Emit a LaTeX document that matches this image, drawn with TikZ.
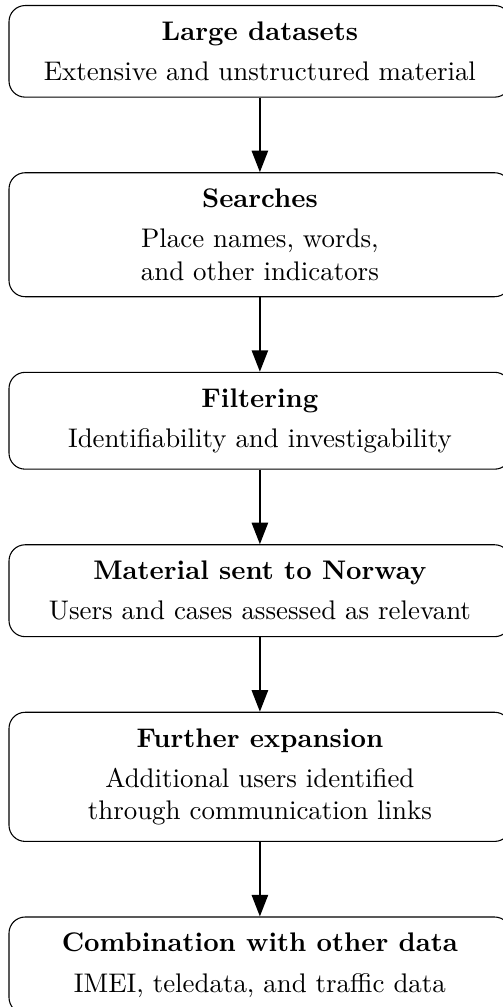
\documentclass[tikz,border=0pt]{standalone}
\usetikzlibrary{calc,positioning,arrows.meta}

\begin{document}
\begin{tikzpicture}[
    stage/.style={rectangle,draw=black,rounded corners=6pt,align=center,
      minimum width=186.5pt,inner ysep=6pt},
    flow/.style={thick,-{Triangle[width=6pt,length=8pt]}},
    node distance=27.7pt
  ]

  \useasboundingbox (-96.6pt,1.86pt) rectangle ++(186.6pt,-374.3pt);

  \node (stage_0) [stage,anchor=north] at(0,0) {\textbf{Large datasets}\\[3pt]Extensive and unstructured material};
  \node (stage_1) [stage,below=of stage_0] {\textbf{Searches}\\[3pt]Place names, words,\\and other indicators};
  \node (stage_2) [stage,below=of stage_1] {\textbf{Filtering}\\[3pt]Identifiability and investigability};
  \node (stage_3) [stage,below=of stage_2] {\textbf{Material sent to Norway}\\[3pt]Users and cases assessed as relevant};
  \node (stage_4) [stage,below=of stage_3] {\textbf{Further expansion}\\[3pt]Additional users identified\\through communication links};
  \node (stage_5) [stage,below=of stage_4] {\textbf{Combination with other data}\\[3pt]IMEI, teledata, and traffic data};

  \foreach \i/\j in {0/1,1/2,2/3,3/4,4/5}
           {
             \draw[flow] (stage_\i) -- (stage_\j);
           }

\end{tikzpicture}
\end{document}
